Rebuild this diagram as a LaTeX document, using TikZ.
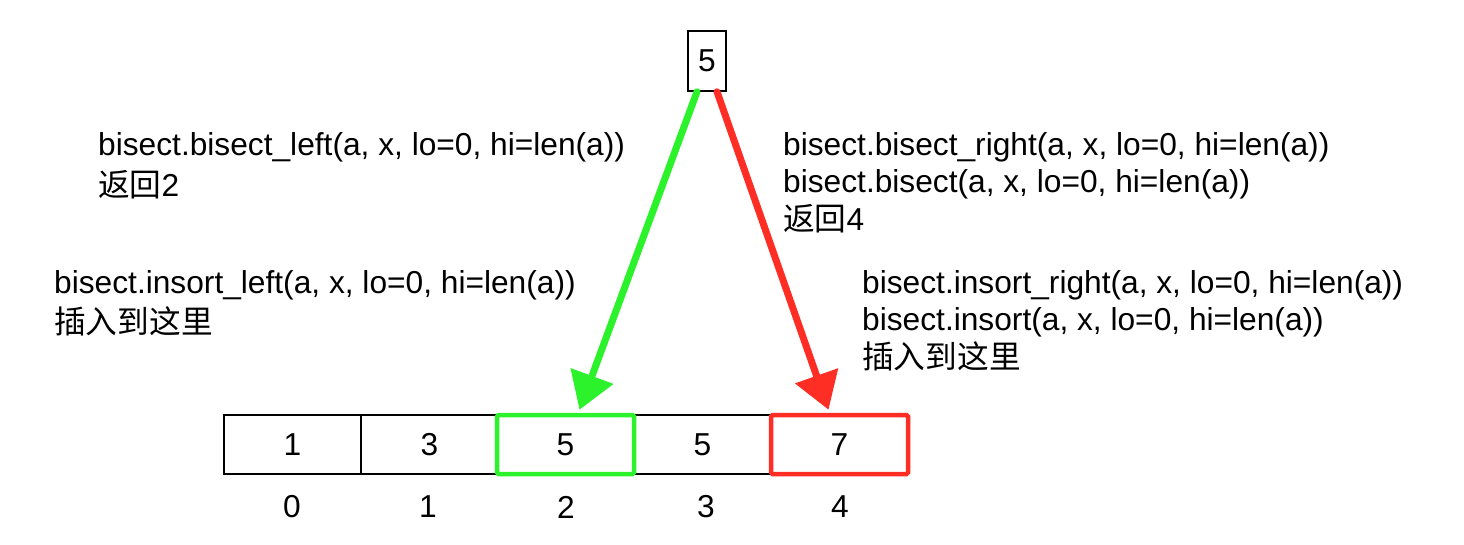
\documentclass[tikz,border=0pt]{standalone}
\usepackage{fontspec}
\setmainfont{Liberation Sans}
\newfontfamily\cjk{Noto Sans CJK SC}
\usetikzlibrary{arrows.meta}
\definecolor{garrow}{RGB}{44,242,44}
\definecolor{rarrow}{RGB}{255,46,36}
\begin{document}
\begin{tikzpicture}[x=1pt,y=-1pt,
  font=\fontsize{31.7}{38}\selectfont,
  cell/.style={draw, line width=1.5pt, minimum width=137pt, minimum height=59pt, inner sep=0pt},
  hlcell/.style={cell, line width=4.5pt, rounded corners=1.5pt},
  txt/.style={inner sep=0pt, anchor=base west},
  idx/.style={inner sep=0pt},
  arr/.style={line width=7pt, line cap=round, -{Triangle[length=36pt,width=44pt]}}]
\useasboundingbox (0,0) rectangle (1464,544);
% array cells
\node[cell] (c0) at (292.5,444.5) {1};
\node[cell] (c1) at (429.5,444.5) {3};
\node[cell] (c3) at (702.5,444.5) {5};
\node[hlcell, draw=garrow] (c2) at (565.5,444.5) {5};
\node[hlcell, draw=rarrow] (c4) at (839.5,444.5) {7};
% indices
\node[idx] (i0) at (292,507) {0};
\node[idx] (i1) at (428,507) {1};
\node[idx] (i2) at (566,507) {2};
\node[idx] (i3) at (706,507) {3};
\node[idx] (i4) at (840,507) {4};
% top value
\node[draw, line width=1.5pt, minimum width=38pt, minimum height=60pt, inner sep=0pt] (t) at (707,61) {5};
% arrows
\coordinate (gs) at ([xshift=-10pt]t.south);
\coordinate (rs) at ([xshift=10pt]t.south);
\coordinate (ge) at ([xshift=14pt,yshift=3pt]c2.north);
\coordinate (re) at ([xshift=-11pt,yshift=3pt]c4.north);
\draw[arr, garrow] (gs) -- (ge);
\draw[arr, rarrow] (rs) -- (re);
% texts
\node[txt] (l1a) at (98,155) {bisect.bisect\_left(a, x, lo=0, hi=len(a))};
\node[txt] (l1b) at (98,196) {{\cjk 返回}2};
\node[txt] (l2a) at (54,293) {bisect.insort\_left(a, x, lo=0, hi=len(a))};
\node[txt] (l2b) at (54,333) {{\cjk 插入到这里}};
\node[txt] (l3a) at (783,155) {bisect.bisect\_right(a, x, lo=0, hi=len(a))};
\node[txt] (l3b) at (783,192) {bisect.bisect(a, x, lo=0, hi=len(a))};
\node[txt] (l3c) at (783,230) {{\cjk 返回}4};
\node[txt] (l4a) at (862,293) {bisect.insort\_right(a, x, lo=0, hi=len(a))};
\node[txt] (l4b) at (862,330) {bisect.insort(a, x, lo=0, hi=len(a))};
\node[txt] (l4c) at (862,368) {{\cjk 插入到这里}};
\end{tikzpicture}
\end{document}
